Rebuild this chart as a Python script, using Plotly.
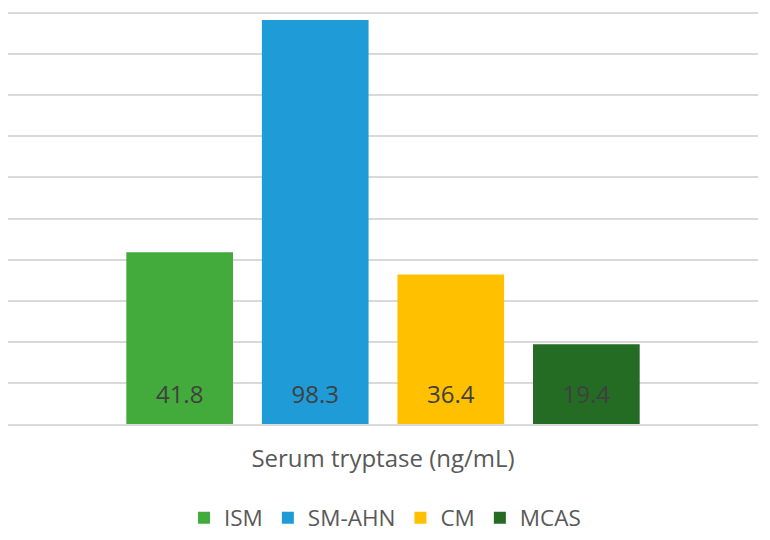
import plotly.graph_objects as go

category = ["Serum tryptase (ng/mL)"]
series_names = ["ISM", "SM-AHN", "CM", "MCAS"]
series_values = [41.8, 98.3, 36.4, 19.4]
series_colors = ["#43AB3B", "#1F9BD7", "#FFC000", "#246B24"]

FONT = "Open Sans, Segoe UI, sans-serif"
BARGAP = 0.277

fig = go.Figure()
for name, val, col in zip(series_names, series_values, series_colors):
    fig.add_trace(go.Bar(
        x=category, y=[val], name=name, offsetgroup=name,
        marker=dict(color=col, line=dict(width=0)),
        hoverinfo="name+y",
    ))
# value labels anchored at the base of each bar ("inside base" labels)
for name, val in zip(series_names, series_values):
    fig.add_trace(go.Scatter(
        x=category, y=[0], offsetgroup=name, mode="markers+text",
        text=[f"{val:.1f}"], textposition="top center",
        textfont=dict(family=FONT, size=24, color="#404040"),
        marker=dict(size=23, color="rgba(0,0,0,0)"),
        showlegend=False, hoverinfo="skip", cliponaxis=False,
    ))

fig.update_layout(
    width=770, height=540,
    margin=dict(l=8, r=12, t=12, b=116, autoexpand=False),
    paper_bgcolor="white", plot_bgcolor="white",
    barmode="group", bargap=BARGAP, bargroupgap=0.213,
    scattermode="group", scattergap=BARGAP,
    font=dict(family=FONT, color="#595959"),
    showlegend=True,
    legend=dict(orientation="h", x=0.5, xanchor="center", xref="container",
                y=0.0407, yanchor="middle", yref="container",
                font=dict(size=22.5, color="#595959"), itemwidth=30, traceorder="normal"),
)
fig.update_yaxes(range=[0, 100.25], tick0=0, dtick=10, showticklabels=False, showgrid=True,
                 gridcolor="#D9D9D9", gridwidth=1.5, zeroline=False, showline=False,
                 automargin=False)
fig.update_xaxes(showgrid=False, showline=True, linecolor="#D9D9D9", linewidth=1.5,
                 tickfont=dict(size=24, color="#595959"), ticks="", ticklabelstandoff=12,
                 automargin=False)

fig.write_html("out.html", config={"displayModeBar": False},
               post_script="document.body.style.margin='0';")
